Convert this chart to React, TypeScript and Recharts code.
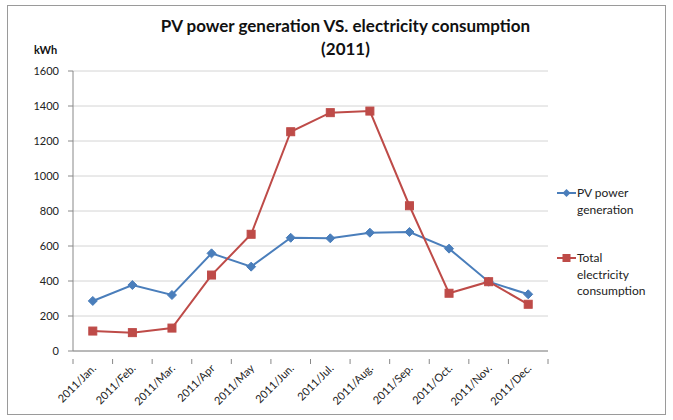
import { LineChart, Line, XAxis, YAxis, CartesianGrid } from "recharts";

const months = [
  "2011/Jan.",
  "2011/Feb.",
  "2011/Mar.",
  "2011/Apr",
  "2011/May",
  "2011/Jun.",
  "2011/Jul.",
  "2011/Aug.",
  "2011/Sep.",
  "2011/Oct.",
  "2011/Nov.",
  "2011/Dec.",
];
const pvGeneration = [286, 377, 320, 558, 482, 647, 644, 676, 680, 585, 396, 324];
const totalConsumption = [114, 105, 131, 434, 667, 1253, 1362, 1371, 830, 330, 396, 267];
const yTicks = [0, 200, 400, 600, 800, 1000, 1200, 1400, 1600];

const data = months.map((month, i) => ({
  month,
  pv: pvGeneration[i],
  total: totalConsumption[i],
}));

const BLUE = "#4a7ebb";
const RED = "#be4b48";
const FONT = "Lato, 'Open Sans', sans-serif";
const TEXT = "#222";
const BAND = 475 / months.length;

const Diamond = (props: any) => {
  const { cx, cy, index } = props;
  if (cx == null || cy == null) return null;
  const r = 4.5;
  return (
    <path
      key={`d-${index}`}
      d={`M${cx},${cy - r}L${cx + r},${cy}L${cx},${cy + r}L${cx - r},${cy}Z`}
      fill={BLUE}
      stroke={BLUE}
    />
  );
};

const Square = (props: any) => {
  const { cx, cy, index } = props;
  if (cx == null || cy == null) return null;
  return <rect key={`s-${index}`} x={cx - 4} y={cy - 4} width={8} height={8} fill={RED} stroke={RED} />;
};

const MonthTick = (props: any) => {
  const { x, y, payload, index } = props;
  return (
    <g>
      <line x1={x - BAND / 2} y1={y} x2={x - BAND / 2} y2={y + 5} stroke="#888" />
      {index === months.length - 1 && (
        <line x1={x + BAND / 2} y1={y} x2={x + BAND / 2} y2={y + 5} stroke="#888" />
      )}
      <text
        x={x + 4}
        y={y + 10}
        textAnchor="end"
        fontSize={11}
        fill={TEXT}
        fontFamily={FONT}
        transform={`rotate(-45, ${x + 4}, ${y + 10})`}
      >
        {payload.value}
      </text>
    </g>
  );
};

const LegendBox = () => (
  <div style={{ fontFamily: FONT, fontSize: 12, color: TEXT, lineHeight: "16.5px" }}>
    <div style={{ display: "flex", alignItems: "flex-start" }}>
      <svg width={21} height={16} style={{ flexShrink: 0 }}>
        <line x1={1} y1={8} x2={20} y2={8} stroke={BLUE} strokeWidth={2} />
        <path d="M10.5,4L14.5,8L10.5,12L6.5,8Z" fill={BLUE} />
      </svg>
      <div>
        PV power
        <br />
        generation
      </div>
    </div>
    <div style={{ display: "flex", alignItems: "flex-start", marginTop: 32 }}>
      <svg width={21} height={16} style={{ flexShrink: 0 }}>
        <line x1={1} y1={8} x2={20} y2={8} stroke={RED} strokeWidth={2} />
        <rect x={6.5} y={4} width={8} height={8} fill={RED} />
      </svg>
      <div>
        Total
        <br />
        electricity
        <br />
        consumption
      </div>
    </div>
  </div>
);

export default function App() {
  return (
    <div style={{ position: "absolute", left: 0, top: 0, width: 673, height: 420, background: "#fff" }}>
      <div
        style={{
          position: "absolute",
          left: 7,
          top: 5,
          width: 657,
          height: 408,
          border: "1px solid #9a9a9a",
        }}
      />
      <div
        style={{
          position: "absolute",
          left: 0,
          width: 673,
          top: 14,
          textAlign: "center",
          fontFamily: FONT,
          fontWeight: "bold",
          fontSize: 17,
          lineHeight: "23px",
          color: "#111",
          paddingLeft: 18,
          boxSizing: "border-box",
        }}
      >
        PV power generation VS. electricity consumption
        <br />
        (2011)
      </div>
      <div
        style={{
          position: "absolute",
          left: 34,
          top: 43,
          fontFamily: FONT,
          fontWeight: "bold",
          fontSize: 11,
          color: "#111",
        }}
      >
        kWh
      </div>
      <div style={{ position: "absolute", left: 0, top: 0 }}>
        <LineChart width={673} height={420} data={data} margin={{ top: 71, right: 125, left: 0, bottom: 9 }}>
          <CartesianGrid vertical={false} stroke="#d4d4d4" />
          <XAxis
            dataKey="month"
            scale="band"
            interval={0}
            height={60}
            axisLine={{ stroke: "#888" }}
            tickLine={false}
            tick={<MonthTick />}
          />
          <YAxis
            width={73}
            domain={[0, 1600]}
            ticks={yTicks}
            interval={0}
            axisLine={{ stroke: "#888" }}
            tickLine={{ stroke: "#888" }}
            tickSize={5}
            tickMargin={9}
            tick={{ fontSize: 11, fill: TEXT, fontFamily: FONT }}
          />
          <Line
            type="linear"
            dataKey="pv"
            name="PV power generation"
            stroke={BLUE}
            strokeWidth={2}
            dot={Diamond}
            activeDot={false}
            isAnimationActive={false}
          />
          <Line
            type="linear"
            dataKey="total"
            name="Total electricity consumption"
            stroke={RED}
            strokeWidth={2}
            dot={Square}
            activeDot={false}
            isAnimationActive={false}
          />
        </LineChart>
      </div>
      <div style={{ position: "absolute", left: 556, top: 185, width: 110 }}>
        <LegendBox />
      </div>
    </div>
  );
}
